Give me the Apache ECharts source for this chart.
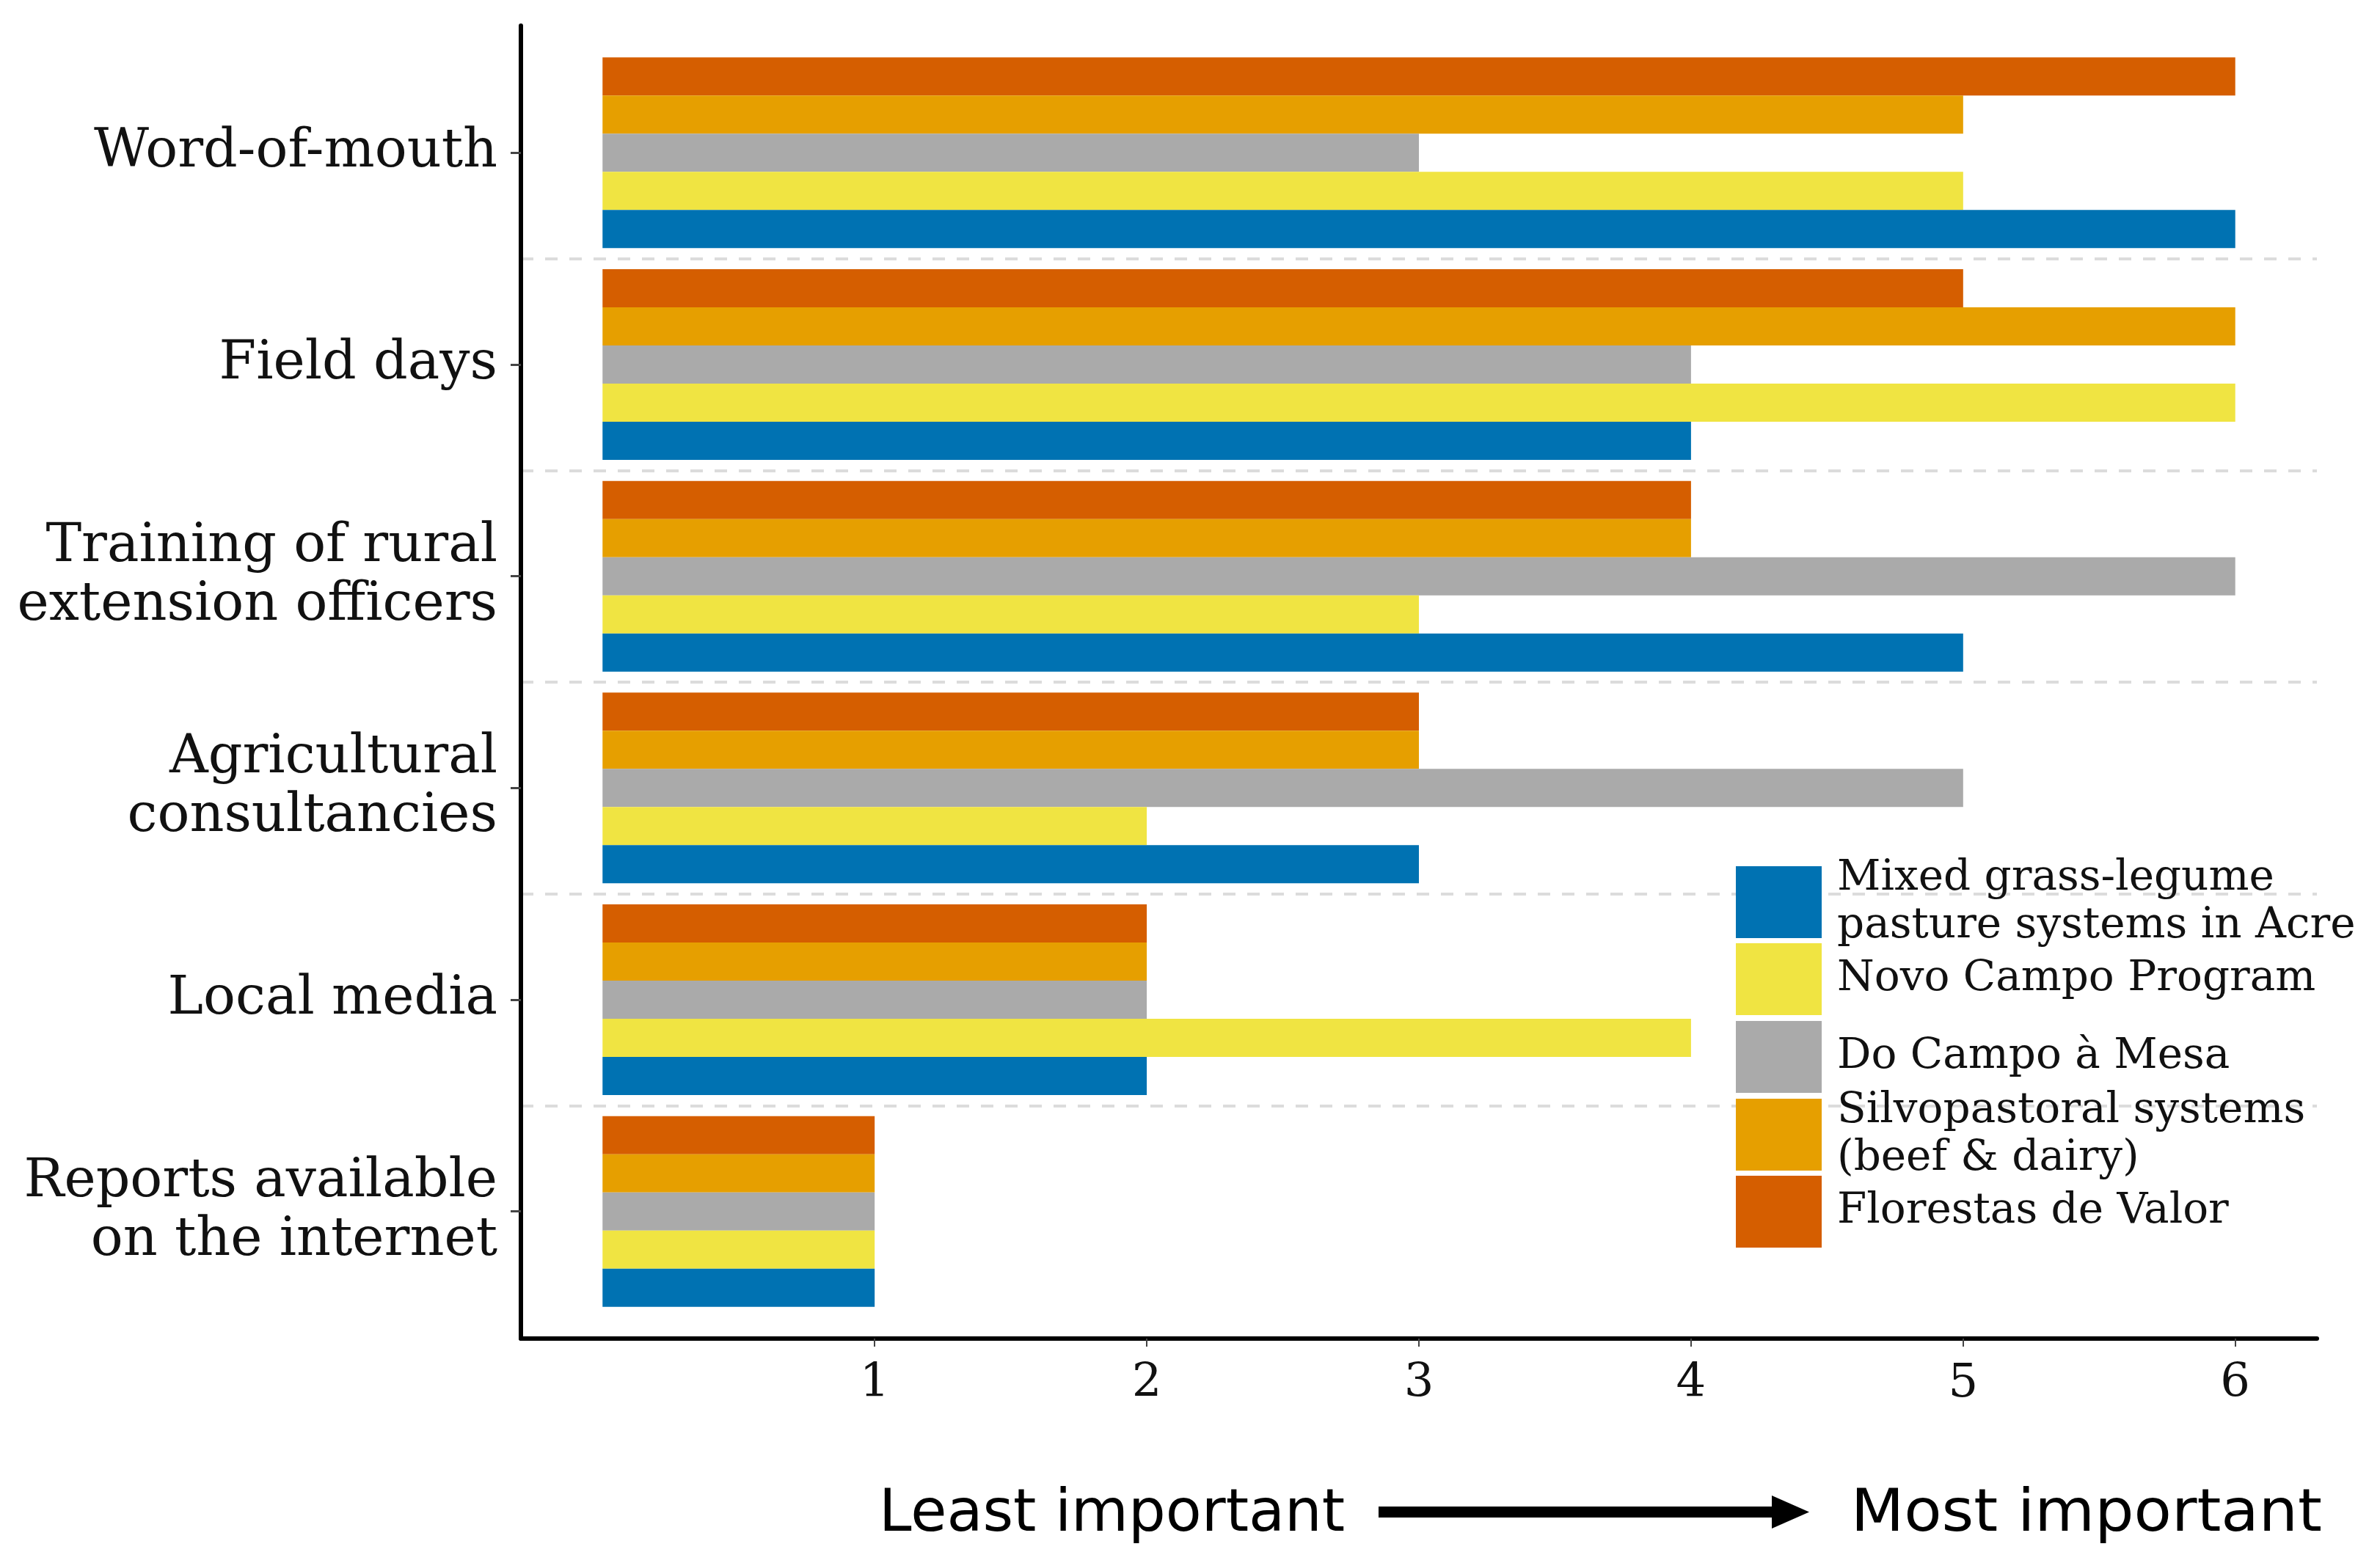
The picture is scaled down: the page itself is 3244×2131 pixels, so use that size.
<!DOCTYPE html>
<html>
<head>
<meta charset="utf-8">
<script src="https://cdn.jsdelivr.net/npm/echarts@6/dist/echarts.min.js"></script>
<style>
html,body{margin:0;padding:0;background:#fff;}
#chart{width:3244px;height:2131px;}
</style>
</head>
<body>
<div id="chart"></div>
<script>
// ---- data ----
const categories = [
  'Word-of-mouth',
  'Field days',
  'Training of rural\nextension officers',
  'Agricultural\nconsultancies',
  'Local media',
  'Reports available\non the internet'
];
const florestasDeValor = [6, 5, 4, 3, 2, 1];
const silvopastoral    = [5, 6, 4, 3, 2, 1];
const doCampoAMesa     = [3, 4, 6, 5, 2, 1];
const novoCampo        = [5, 6, 3, 2, 4, 1];
const mixedGrass       = [6, 4, 5, 3, 2, 1];
const xTickValues = [1, 2, 3, 4, 5, 6];

const seriesNames = [
  'Florestas de Valor',
  'Silvopastoral systems (beef & dairy)',
  'Do Campo à Mesa',
  'Novo Campo Program',
  'Mixed grass-legume pasture systems in Acre'
];
const seriesData = [florestasDeValor, silvopastoral, doCampoAMesa, novoCampo, mixedGrass];
const seriesColors = ['#D55E00', '#E69F00', '#AAAAAA', '#F0E442', '#0072B2'];

// legend (top to bottom)
const legendOrder = [4, 3, 2, 1, 0];
const legendLabels = {
  'Mixed grass-legume pasture systems in Acre': 'Mixed grass-legume\npasture systems in Acre',
  'Novo Campo Program': 'Novo Campo Program',
  'Do Campo à Mesa': 'Do Campo à Mesa',
  'Silvopastoral systems (beef & dairy)': 'Silvopastoral systems\n(beef & dairy)',
  'Florestas de Valor': 'Florestas de Valor'
};

// ---- layout ----
const W = 3244, H = 2131;
const plotLeft = 710, plotRight = W - 3158;
const axisTop = 35, axisBottom = H - 1825;
const catTop = 64, catBottom = H - 1796;
const legendSquareTops = [1181, 1286, 1392, 1498, 1603];
const legendW = 117, legendH = 98, legendLineH = 65, legendPadTop = 20;

const chart = echarts.init(document.getElementById('chart'), null, {renderer: 'canvas'});

const legends = legendOrder.map((si, k) => {
  const name = seriesNames[si];
  const lines = legendLabels[name].split('\n').length;
  const textH = lines * legendLineH + legendPadTop;
  const extra = Math.max(0, (textH - legendH) / 2);
  return {
    data: [name],
    orient: 'vertical',
    left: 2366,
    top: legendSquareTops[k] - extra,
    padding: 0,
    itemWidth: legendW,
    itemHeight: legendH,
    icon: 'rect',
    selectedMode: false,
    formatter: (n) => legendLabels[n],
    textStyle: {
      fontFamily: 'DejaVu Serif',
      fontSize: 58,
      lineHeight: legendLineH,
      color: '#111',
      padding: [legendPadTop, 0, 0, 16]
    }
  };
});

const option = {
  backgroundColor: '#fff',
  animation: false,
  grid: [
    {left: plotLeft, right: plotRight, top: axisTop, bottom: axisBottom, containLabel: false},
    {left: plotLeft, right: plotRight, top: catTop, bottom: catBottom, containLabel: false}
  ],
  legend: legends,
  xAxis: [
    {
      type: 'value', gridIndex: 0, min: -0.3, max: 6.3,
      axisLine: {show: true, onZero: false, lineStyle: {color: '#000', width: 6}},
      axisTick: {show: true, customValues: xTickValues, length: 11, lineStyle: {color: '#444', width: 2}},
      axisLabel: {show: true, customValues: xTickValues, margin: 30,
        fontFamily: 'DejaVu Serif', fontSize: 64, color: '#111'},
      splitLine: {show: false}
    },
    {
      type: 'value', gridIndex: 1, min: -0.3, max: 6.3, show: false,
      axisLine: {onZero: false},
      splitLine: {show: false}
    }
  ],
  yAxis: [
    {
      type: 'value', gridIndex: 0, min: 0, max: 1,
      axisLine: {show: true, onZero: false, lineStyle: {color: '#000', width: 6}},
      axisTick: {show: false}, axisLabel: {show: false}, splitLine: {show: false}
    },
    {
      type: 'category', gridIndex: 1, data: categories, inverse: true,
      axisLine: {show: false, onZero: false},
      axisTick: {show: true, alignWithLabel: true, interval: 0, length: 14,
        lineStyle: {color: '#444', width: 3}},
      axisLabel: {show: true, interval: 0, margin: 32, align: 'right',
        padding: [16, 0, 0, 0],
        fontFamily: 'DejaVu Serif', fontSize: 73, lineHeight: 80, color: '#111'},
      splitLine: {show: true, interval: 0, showMinLine: false, showMaxLine: false,
        lineStyle: {color: '#dcdcdc', width: 4, type: [17, 16]}}
    }
  ],
  series: seriesNames.map((name, i) => ({
    name: name,
    type: 'bar',
    xAxisIndex: 1,
    yAxisIndex: 1,
    data: seriesData[i],
    barWidth: 52,
    barGap: '0%',
    itemStyle: {color: seriesColors[i]},
    emphasis: {disabled: true}
  })),
  graphic: [
    {type: 'text', x: 1198, y: 2066, style: {text: 'Least important', fontFamily: 'DejaVu Sans', fontSize: 80, fill: '#000', align: 'left', verticalAlign: 'middle'}},
    {type: 'rect', shape: {x: 1879, y: 2054, width: 540, height: 15}, style: {fill: '#000'}},
    {type: 'polygon', shape: {points: [[2415, 2039], [2466, 2061.5], [2415, 2084]]}, style: {fill: '#000'}},
    {type: 'text', x: 3165, y: 2066, scaleX: 1.05, style: {text: 'Most important', fontFamily: 'DejaVu Sans', fontSize: 80, fill: '#000', align: 'right', verticalAlign: 'middle'}}
  ]
};

chart.setOption(option);
</script>
</body>
</html>
